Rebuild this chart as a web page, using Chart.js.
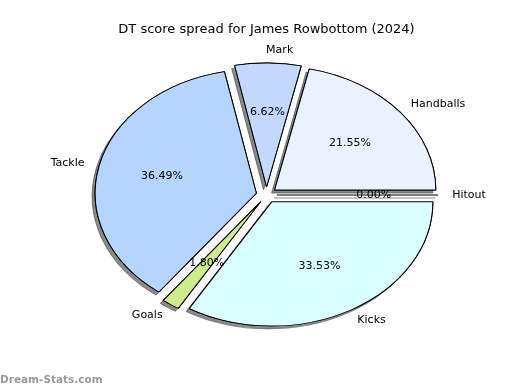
<!DOCTYPE html>
<html>
<head>
<meta charset="utf-8">
<script src="https://cdn.jsdelivr.net/npm/chart.js@4.4.1/dist/chart.umd.min.js"></script>
<style>
  html, body { margin: 0; padding: 0; background: #fff; }
  #wrap { width: 520px; height: 390px; }
</style>
</head>
<body>
<div id="wrap"><canvas id="pie" width="520" height="390"></canvas></div>
<script>
// matplotlib order (counter-clockwise from 3 o'clock)
const categories = ['Hitout', 'Handballs', 'Mark', 'Tackle', 'Goals', 'Kicks'];
const shares = [0, 21.55, 6.62, 36.49, 1.80, 33.53];
const sliceColors = ['#e0f0ff', '#eaf1ff', '#c4d8ff', '#b4d5ff', '#d0eb8c', '#d9ffff'];
const chartTitle = 'DT score spread for James Rowbottom (2024)';

// chart.js goes clockwise, so flip the order
const labelsCw = categories.slice().reverse();
const valuesCw = shares.slice().reverse();
const colorsCw = sliceColors.slice().reverse();

const stretchX = 1.3;   // pie is an ellipse in the original
const explode = 8;      // px push-out of every slice
const pieRadius = 124;
const font = 'DejaVu Sans, sans-serif';

function pct(v) {
  let total = valuesCw.reduce((a, b) => a + b, 0);
  return (v / total * 100).toFixed(2) + '%';
}

function drawSlices(ctx, meta, withShadow) {
  const cx = meta.data[0].x;
  ctx.save();
  ctx.translate(cx, 0);
  ctx.scale(stretchX, 1);
  ctx.translate(-cx, 0);
  if (withShadow) {
    ctx.shadowColor = 'rgba(60,60,60,0.6)';
    ctx.shadowOffsetX = -3;
    ctx.shadowOffsetY = 3;
    ctx.shadowBlur = 0;
  }
  meta.data.forEach(arc => {
    let mid = (arc.startAngle + arc.endAngle) / 2;
    ctx.save();
    ctx.translate(Math.cos(mid) * explode, Math.sin(mid) * explode);
    if (arc.endAngle - arc.startAngle === 0) {
      // zero slice shows up as a single edge line
      ctx.beginPath();
      ctx.moveTo(arc.x, arc.y);
      ctx.lineTo(arc.x + Math.cos(mid) * arc.outerRadius, arc.y + Math.sin(mid) * arc.outerRadius);
      ctx.lineWidth = 0.9;
      ctx.strokeStyle = '#555';
      ctx.stroke();
    } else {
      arc.draw(ctx);
    }
    ctx.restore();
  });
  ctx.restore();
}

// draws the slices itself: squashed ellipse, exploded, with a drop shadow
const ellipsePie = {
  id: 'ellipsePie',
  beforeDatasetsDraw(chart) {
    const meta = chart.getDatasetMeta(0);
    drawSlices(chart.ctx, meta, true);
    drawSlices(chart.ctx, meta, false);
    return false;
  },
  afterDraw(chart) {
    const ctx = chart.ctx;
    const meta = chart.getDatasetMeta(0);
    ctx.save();
    ctx.fillStyle = '#000';
    ctx.font = '11px ' + font;
    ctx.textBaseline = 'middle';
    meta.data.forEach((arc, i) => {
      let mid = (arc.startAngle + arc.endAngle) / 2;
      let dx = Math.cos(mid), dy = Math.sin(mid);
      let rl = explode + 1.1 * arc.outerRadius;
      let lx = dx * rl * stretchX;
      ctx.textAlign = lx > 0.001 ? 'left' : (lx < -0.001 ? 'right' : 'center');
      ctx.fillText(labelsCw[i], arc.x + lx - (lx > 0 ? 2 : -1), arc.y + dy * rl);
      let rp = explode + 0.6 * arc.outerRadius;
      ctx.textAlign = 'center';
      ctx.fillText(pct(valuesCw[i]), arc.x + dx * rp * stretchX, arc.y + dy * rp);
    });
    // watermark
    ctx.textAlign = 'left';
    ctx.fillStyle = '#9a9a9a';
    ctx.font = 'bold 10.5px ' + font;
    ctx.fillText('Dream-Stats.com', 0, 380);
    ctx.restore();
  }
};

new Chart(document.getElementById('pie'), {
  type: 'pie',
  data: {
    labels: labelsCw,
    datasets: [{
      data: valuesCw,
      backgroundColor: colorsCw,
      borderColor: '#000',
      borderWidth: 0.8,
      hoverOffset: 0,
      radius: pieRadius
    }]
  },
  options: {
    responsive: false,
    animation: false,
    rotation: 90,
    events: [],
    layout: { padding: { left: 13, right: 0, top: 0, bottom: 47.6 } },
    plugins: {
      legend: { display: false },
      tooltip: { enabled: false },
      title: {
        display: true,
        text: chartTitle,
        color: '#000',
        font: { family: font, size: 13, weight: 'normal', lineHeight: 1.2 },
        padding: { top: 22, bottom: 10 }
      }
    }
  },
  plugins: [ellipsePie]
});
</script>
</body>
</html>
